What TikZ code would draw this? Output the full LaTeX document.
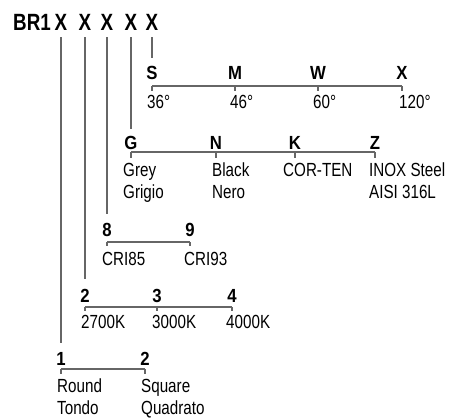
\documentclass[tikz,border=0pt]{standalone}
\usepackage{fontspec}
\setmainfont{Liberation Sans}[FakeStretch=0.8]
\newfontfamily\codefont{Liberation Sans}[FakeStretch=0.88]
\usepackage{tikz}
\usetikzlibrary{positioning}

\begin{document}
\begin{tikzpicture}[x=1pt, y=-1pt,
    head/.style={font=\bfseries\fontsize{23.5}{26}\selectfont, inner sep=0pt, anchor=base},
    code/.style={font=\codefont\bfseries\fontsize{19}{22}\selectfont, inner sep=0pt, anchor=base},
    value/.style={font=\fontsize{19}{22}\selectfont, inner sep=0pt, anchor=north west, align=left},
    link/.style={draw=black!60, line width=1.3pt}]

        % Fix the page
        \useasboundingbox (0,0) rectangle (451,418);

        % Header
        \node[head, anchor=base west] (br) at (13,30) {BR1};
        \foreach \x [count=\i] in {61,85,107,131,152} {
          \node[head] (x\i) at (\x,30) {X};
        }

        % Angle
        \foreach \x/\c/\v/\t [count=\i] in {152/S/147/36°, 235/M/230/46°, 318/W/313/60°, 402/X/399/120°} {
          \coordinate (a\i) at (\x,86);
          \coordinate (a\i t) at (\x,91);
          \node[code] (ac\i) at (\x,79) {\c};
          \node[value] (av\i) at (\v,95) {\t};
          \draw[link] (a\i) -- (a\i t);
        }
        \draw[link] (a1) -- (a4);

        % Finish
        \foreach \x/\c/\v/\t [count=\i] in {131/G/123/{Grey\\Grigio}, 216/N/212/{Black\\Nero}, 295/K/283/{COR-TEN}, 375/Z/369/{INOX Steel\\AISI 316L}} {
          \coordinate (f\i) at (\x,152);
          \coordinate (f\i t) at (\x,158);
          \node[code] (fc\i) at (\x,149) {\c};
          \node[value] (fv\i) at (\v,163) {\t};
          \draw[link] (f\i) -- (f\i t);
        }
        \draw[link] (f1) -- (f4);

        % CRI
        \foreach \x/\c/\v/\t [count=\i] in {107/8/102/CRI85, 190/9/184/CRI93} {
          \coordinate (r\i) at (\x,242);
          \coordinate (r\i t) at (\x,246);
          \node[code] (rc\i) at (\x,236) {\c};
          \node[value] (rv\i) at (\v,252) {\t};
          \draw[link] (r\i) -- (r\i t);
        }
        \draw[link] (r1) -- (r2);

        % Colour temperature
        \foreach \x/\c/\v/\t [count=\i] in {85/2/81/2700K, 157/3/152/3000K, 232/4/226/4000K} {
          \coordinate (k\i) at (\x,307);
          \coordinate (k\i t) at (\x,311);
          \node[code] (kc\i) at (\x,302) {\c};
          \node[value] (kv\i) at (\v,315) {\t};
          \draw[link] (k\i) -- (k\i t);
        }
        \draw[link] (k1) -- (k3);

        % Shape
        \foreach \x/\c/\v/\t [count=\i] in {61/1/57/{Round\\Tondo}, 145/2/141/{Square\\Quadrato}} {
          \coordinate (s\i) at (\x,369);
          \coordinate (s\i t) at (\x,374);
          \node[code] (sc\i) at (\x,365) {\c};
          \node[value] (sv\i) at (\v,379) {\t};
          \draw[link] (s\i) -- (s\i t);
        }
        \draw[link] (s1) -- (s2);

        % Header to rows
        \draw[link, shorten <=7pt, shorten >=8pt] (x5.south) -- (ac1.north);
        \draw[link, shorten <=7pt, shorten >=7pt] (x4.south) -- (fc1.north);
        \draw[link, shorten <=7pt, shorten >=9pt] (x3.south) -- (rc1.north);
        \draw[link, shorten <=7pt, shorten >=10pt] (x2.south) -- (kc1.north);
        \draw[link, shorten <=7pt, shorten >=9pt] (x1.south) -- (sc1.north);
\end{tikzpicture}
\end{document}
